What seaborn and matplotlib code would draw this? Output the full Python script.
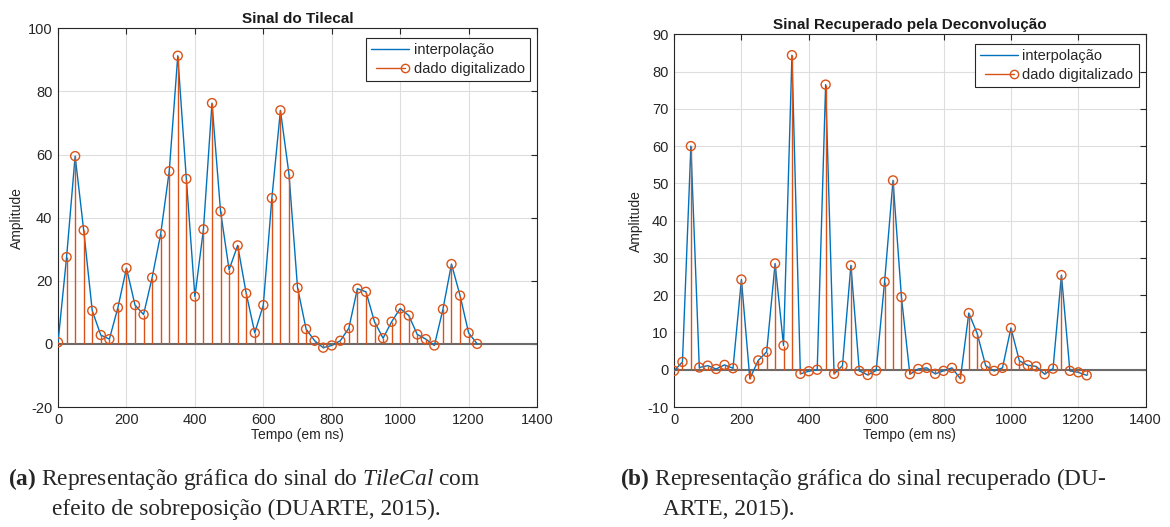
import numpy as np
import pandas as pd
import matplotlib
matplotlib.use("Agg")
import matplotlib.pyplot as plt
import seaborn as sns
from matplotlib.lines import Line2D
from matplotlib.legend_handler import HandlerLine2D

# ---------------- data ----------------
tempo = list(range(0, 1250, 25))  # ns

sinal_tilecal = [0.5, 27.5, 59.5, 36, 10.5, 2.8, 1.5, 11.5, 24, 12.3,
                 9.3, 21, 34.8, 54.7, 91.3, 52.3, 15, 36.3, 76.3, 42,
                 23.5, 31.2, 16, 3.5, 12.3, 46.2, 74, 53.8, 17.8, 4.7,
                 1, -1.2, -0.5, 1, 5, 17.5, 16.5, 7, 1.8, 7,
                 11.2, 9, 3, 1.5, -0.5, 11, 25.3, 15.3, 3.5, 0]

sinal_recuperado = [-0.3, 2.1, 60, 0.6, 1.1, 0.2, 1.3, 0.4, 24.2, -2.4,
                    2.5, 4.8, 28.5, 6.5, 84.4, -1.1, -0.4, 0, 76.5, -1.1,
                    1.1, 28, -0.3, -1.4, -0.2, 23.6, 50.8, 19.5, -1.2, 0.2,
                    0.5, -1.1, -0.3, 0.5, -2.4, 15.2, 9.7, 1.1, -0.3, 0.5,
                    11.2, 2.4, 1.2, 0.9, -1.2, 0.3, 25.4, -0.3, -0.7, -1.5]

titulos = ["Sinal do Tilecal", "Sinal Recuperado pela Deconvolução"]
xlabel = "Tempo (em ns)"
ylabel = "Amplitude"
legenda = ["interpolação", "dado digitalizado"]
xticks = [0, 200, 400, 600, 800, 1000, 1200, 1400]
yticks_a = [-20, 0, 20, 40, 60, 80, 100]
yticks_b = [-10, 0, 10, 20, 30, 40, 50, 60, 70, 80, 90]

# ---------------- style ----------------
sns.set_theme(style="white")
plt.rcParams["font.family"] = ["Liberation Sans", "DejaVu Sans"]
plt.rcParams["axes.unicode_minus"] = False
plt.rcParams["mathtext.fontset"] = "custom"
plt.rcParams["mathtext.rm"] = "Liberation Serif"
plt.rcParams["mathtext.it"] = "Liberation Serif:italic"
plt.rcParams["mathtext.bf"] = "Liberation Serif:bold"

AZUL = "#0072BD"
LARANJA = "#D95319"
CINZA = "#262626"

fig = plt.figure(figsize=(11.7, 5.27), dpi=100)
ax_a = fig.add_axes([0.0496, 0.2277, 0.4094, 0.7186])
ax_b = fig.add_axes([0.5761, 0.2277, 0.4031, 0.7072])


class HandlerStemEnd(HandlerLine2D):
    def create_artists(self, legend, orig_handle, xdescent, ydescent,
                       width, height, fontsize, trans):
        arts = super().create_artists(legend, orig_handle, xdescent, ydescent,
                                      width, height, fontsize, trans)
        for a in arts:
            if isinstance(a, Line2D) and a.get_marker() not in (None, "None", ""):
                n = len(a.get_xdata())
                a.set_markevery([n - 1])
        return arts


def painel(ax, y, titulo, yticks, ylim):
    df = pd.DataFrame({"t": tempo, "y": y})
    ax.grid(True, color="#dedede", lw=0.8)
    ax.set_axisbelow(True)
    sns.lineplot(data=df, x="t", y="y", ax=ax, color=AZUL, lw=1.0,
                 zorder=3, legend=False)
    ax.axhline(0, color="#6b6b6b", lw=1.5, zorder=2)
    ax.vlines(df["t"], 0, df["y"], color=LARANJA, lw=1.0, zorder=4)
    sns.scatterplot(data=df, x="t", y="y", ax=ax, marker="o", s=42,
                    facecolor="none", edgecolor=LARANJA, linewidth=1.0,
                    zorder=5, legend=False)
    ax.set_xlim(0, 1400)
    ax.set_ylim(*ylim)
    ax.set_xticks(xticks)
    ax.set_yticks(yticks)
    ax.set_title(titulo, fontsize=11, fontweight="bold", color="#1a1a1a", pad=4)
    ax.set_xlabel(xlabel, fontsize=10, color=CINZA, labelpad=1)
    ax.set_ylabel(ylabel, fontsize=10, color=CINZA, labelpad=3)
    ax.tick_params(direction="in", length=4, width=0.8, colors=CINZA,
                   labelsize=10.5, top=True, right=True, pad=4)
    for s in ax.spines.values():
        s.set_visible(True)
        s.set_color(CINZA)
        s.set_linewidth(0.8)
    h1 = Line2D([], [], color=AZUL, lw=1.0)
    h2 = Line2D([], [], color=LARANJA, lw=1.0, marker="o", ms=6,
                mfc="none", mec=LARANJA)
    leg = ax.legend([h1, h2], legenda, loc="upper right",
                    bbox_to_anchor=(0.985, 0.975), fontsize=10.5,
                    frameon=True, fancybox=False, framealpha=1,
                    edgecolor=CINZA, handlelength=2.6, handletextpad=0.3,
                    borderpad=0.35, labelspacing=0.35, borderaxespad=0,
                    handler_map={h2: HandlerStemEnd(numpoints=2)})
    leg.get_frame().set_linewidth(0.8)
    for t in leg.get_texts():
        t.set_color(CINZA)


painel(ax_a, sinal_tilecal, titulos[0], yticks_a, (-20, 100))
painel(ax_b, sinal_recuperado, titulos[1], yticks_b, (-10, 90))

# ---------------- captions ----------------
cap_font = ["Liberation Serif", "DejaVu Serif"]
fs = 16.8
fig.text(8 / 1170, 1 - 479 / 527,
         r"$\mathbf{(a)}$ Representação gráfica do sinal do $\mathit{TileCal}$ com",
         fontsize=fs, family=cap_font, va="center", ha="left")
fig.text(52 / 1170, 1 - 509 / 527,
         "efeito de sobreposição (DUARTE, 2015).",
         fontsize=fs, family=cap_font, va="center", ha="left")
fig.text(620 / 1170, 1 - 479 / 527,
         r"$\mathbf{(b)}$ Representação gráfica do sinal recuperado (DU-",
         fontsize=fs, family=cap_font, va="center", ha="left")
fig.text(663 / 1170, 1 - 509 / 527,
         "ARTE, 2015).",
         fontsize=fs, family=cap_font, va="center", ha="left")

fig.savefig("out.png", dpi=100, facecolor="white")
